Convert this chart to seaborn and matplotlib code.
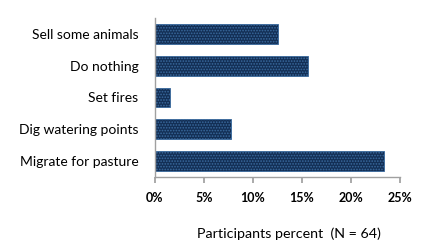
import matplotlib
matplotlib.use("Agg")
import matplotlib.pyplot as plt
import seaborn as sns
import pandas as pd
from matplotlib.ticker import PercentFormatter

categories = ["Sell some animals", "Do nothing", "Set fires", "Dig watering points", "Migrate for pasture"]
values = [12.5, 15.6, 1.56, 7.8, 23.4]
xticks = [0, 5, 10, 15, 20, 25]

sns.set_theme(style="white")
plt.rcParams['font.family'] = ['Lato', 'DejaVu Sans']
plt.rcParams['hatch.linewidth'] = 0.8

df = pd.DataFrame({"cat": categories, "val": values})

fig = plt.figure(figsize=(4.34, 2.5), dpi=100)
ax = fig.add_axes([155/434, 1-177/250, 245/434, 159/250])
sns.barplot(data=df, x="val", y="cat", orient="h", ax=ax, color="#132F55",
            width=0.62, saturation=1)
for p in ax.patches:
    p.set_facecolor("#132F55")
    p.set_edgecolor("#3A6A9E")
    p.set_hatch("......")
    p.set_linewidth(0.6)

ax.set_xlim(0, 25)
ax.set_xticks(xticks)
ax.xaxis.set_major_formatter(PercentFormatter(decimals=0))
ax.set_ylabel("")
ax.set_xlabel("Participants percent  (N = 64)", fontsize=10.3, color="black")
ax.xaxis.set_label_coords(0.545, -0.32)
for s in ["top", "right"]:
    ax.spines[s].set_visible(False)
for s in ["left", "bottom"]:
    ax.spines[s].set_color("#A0A0A0")
    ax.spines[s].set_linewidth(1)
ax.tick_params(axis="x", which="major", bottom=True, length=4, color="#A0A0A0",
               labelsize=9, pad=7, labelcolor="black")
ax.tick_params(axis="y", left=False, labelsize=10, pad=6, labelcolor="black")
for t in ax.get_xticklabels():
    t.set_fontweight("bold")

fig.savefig("out.png", dpi=100)
